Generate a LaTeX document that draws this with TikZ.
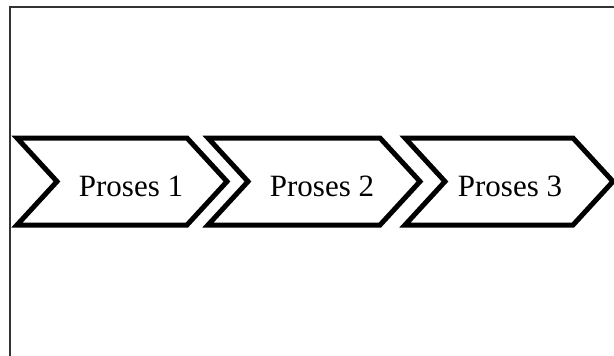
\documentclass[tikz,border=0pt]{standalone}
\usepackage{fontspec}
\setmainfont{Liberation Serif}
\begin{document}
\begin{tikzpicture}[x=1pt,y=-1pt,
  chev/.style={line width=5pt,line join=miter,draw=black,fill=white},
  lbl/.style={font=\fontsize{31}{37}\selectfont,inner sep=0pt,anchor=base},
  frame/.style={line width=1.5pt,draw=black!80}]
\useasboundingbox (0,0) rectangle (614,356);
\draw[frame] (614,7) -- (10,7) -- (10,356);
\foreach \L/\W [count=\i] in {17/170,208/172,405/168}{
  \draw[chev] (\L,138) -- ({\L+\W},138) -- ({\L+\W+40},181.5) -- ({\L+\W},225)
     -- (\L,225) -- ({\L+40},181.5) -- cycle;
}
\node[lbl] (p1) at (131,196) {Proses 1};
\node[lbl] (p2) at (322,196) {Proses 2};
\node[lbl] (p3) at (510,196) {Proses 3};
\end{tikzpicture}
\end{document}
